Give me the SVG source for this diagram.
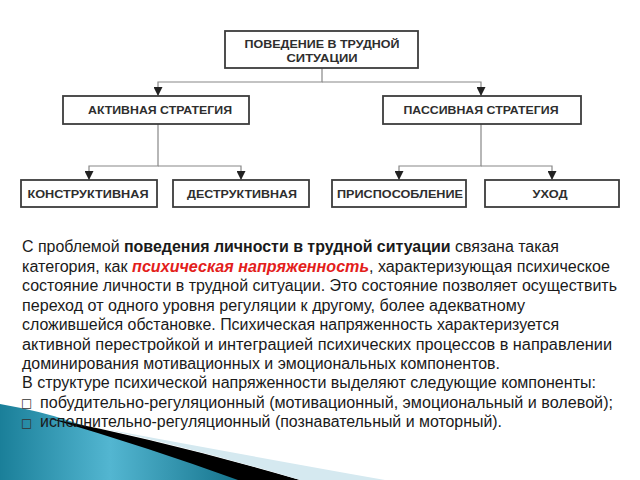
<svg xmlns="http://www.w3.org/2000/svg" width="640" height="480" viewBox="0 0 640 480">
  <defs>
    <marker id="arr" viewBox="0 0 10 10" refX="10" refY="5" markerWidth="9" markerHeight="9" markerUnits="userSpaceOnUse" orient="auto">
      <path d="M0 0 L10 5 L0 10 Z" fill="#222"/>
    </marker>
    <linearGradient id="teal" x1="0" y1="0" x2="1" y2="0">
      <stop offset="0" stop-color="#1a7f99"/>
      <stop offset="0.45" stop-color="#53b6d1"/>
      <stop offset="1" stop-color="#127089"/>
    </linearGradient>
    <style>
      .box { fill: #fff; stroke: #3c3c3c; stroke-width: 1.8; }
      .bl { font-family: "Liberation Sans", Arial, sans-serif; font-weight: bold; font-size: 11.5px; fill: #2e2e2e; text-anchor: middle; }
      .con { fill: none; stroke: #888; stroke-width: 1.2; }
      .body { font-family: "Liberation Sans", Arial, sans-serif; font-size: 16px; fill: #1a1a1a; }
      .bul { font-family: "DejaVu Sans", sans-serif; font-size: 12px; fill: #333; }
    </style>
  </defs>
  <rect width="640" height="480" fill="#fff"/>

  <!-- decorative slide corner -->
  <g id="decor">
    <path d="M0 404 Q40 411 70 421 L245 480 L0 480 Z" fill="url(#teal)"/>
    <path d="M48 418 Q170 442 300 480 L238 480 Q150 448 48 418 Z" fill="#000"/>
    <path d="M100 428 Q250 456 385 480 L300 480 Q200 450 100 428 Z" fill="#d5e9f0"/>
  </g>

  <g id="connectors">
    <path class="con" d="M322 68 V82 H158 V96" marker-end="url(#arr)"/>
    <path class="con" d="M322 82 H481 V96" marker-end="url(#arr)"/>
    <path class="con" d="M158 124 V166 H89 V180" marker-end="url(#arr)"/>
    <path class="con" d="M158 166 H241 V180" marker-end="url(#arr)"/>
    <path class="con" d="M481 124 V166 H399 V180" marker-end="url(#arr)"/>
    <path class="con" d="M481 166 H552 V180" marker-end="url(#arr)"/>
  </g>

  <g id="n-top">
    <rect class="box" x="225" y="31" width="193" height="37"/>
    <text class="bl" x="322" y="47.5" textLength="155" lengthAdjust="spacingAndGlyphs">ПОВЕДЕНИЕ В ТРУДНОЙ</text>
    <text class="bl" x="322" y="61.5" textLength="71" lengthAdjust="spacingAndGlyphs">СИТУАЦИИ</text>
  </g>
  <g id="n-active">
    <rect class="box" x="63" y="96" width="186" height="28"/>
    <text class="bl" x="160" y="114" textLength="144" lengthAdjust="spacingAndGlyphs">АКТИВНАЯ СТРАТЕГИЯ</text>
  </g>
  <g id="n-passive">
    <rect class="box" x="383" y="96" width="198" height="28"/>
    <text class="bl" x="481" y="114" textLength="155" lengthAdjust="spacingAndGlyphs">ПАССИВНАЯ СТРАТЕГИЯ</text>
  </g>
  <g id="n-constr">
    <rect class="box" x="21" y="180" width="136" height="27"/>
    <text class="bl" x="88" y="197.5" textLength="121" lengthAdjust="spacingAndGlyphs">КОНСТРУКТИВНАЯ</text>
  </g>
  <g id="n-destr">
    <rect class="box" x="173" y="180" width="136" height="27"/>
    <text class="bl" x="242" y="197.5" textLength="110" lengthAdjust="spacingAndGlyphs">ДЕСТРУКТИВНАЯ</text>
  </g>
  <g id="n-adapt">
    <rect class="box" x="332" y="180" width="134" height="27"/>
    <text class="bl" x="400" y="197.5" textLength="126" lengthAdjust="spacingAndGlyphs">ПРИСПОСОБЛЕНИЕ</text>
  </g>
  <g id="n-leave">
    <rect class="box" x="485" y="180" width="134" height="27"/>
    <text class="bl" x="550" y="197.5" textLength="35" lengthAdjust="spacingAndGlyphs">УХОД</text>
  </g>

  <g id="body">
    <text class="body" x="22" y="252" textLength="537" lengthAdjust="spacingAndGlyphs">С проблемой <tspan font-weight="bold">поведения личности в трудной ситуации</tspan> связана такая</text>
    <text class="body" x="22" y="271.5" textLength="588" lengthAdjust="spacingAndGlyphs">категория, как <tspan font-weight="bold" font-style="italic" fill="#e3201b">психическая напряженность</tspan>, характеризующая психическое</text>
    <text class="body" x="22" y="291" textLength="595" lengthAdjust="spacingAndGlyphs">состояние личности в трудной ситуации. Это состояние позволяет осуществить</text>
    <text class="body" x="22" y="310.5" textLength="503" lengthAdjust="spacingAndGlyphs">переход от одного уровня регуляции к другому, более адекватному</text>
    <text class="body" x="22" y="330" textLength="537" lengthAdjust="spacingAndGlyphs">сложившейся обстановке. Психическая напряженность характеризуется</text>
    <text class="body" x="22" y="349.5" textLength="590" lengthAdjust="spacingAndGlyphs">активной перестройкой и интеграцией психических процессов в направлении</text>
    <text class="body" x="22" y="369" textLength="478" lengthAdjust="spacingAndGlyphs">доминирования мотивационных и эмоциональных компонентов.</text>
    <text class="body" x="22" y="388" textLength="574" lengthAdjust="spacingAndGlyphs">В структуре психической напряженности выделяют следующие компоненты:</text>
    <text class="bul" x="21" y="407">□</text>
    <text class="body" x="40" y="407.5" textLength="573" lengthAdjust="spacingAndGlyphs">побудительно-регуляционный (мотивационный, эмоциональный и волевой);</text>
    <text class="bul" x="21" y="426.5">□</text>
    <text class="body" x="40" y="427" textLength="462" lengthAdjust="spacingAndGlyphs">исполнительно-регуляционный (познавательный и моторный).</text>
  </g>
</svg>
